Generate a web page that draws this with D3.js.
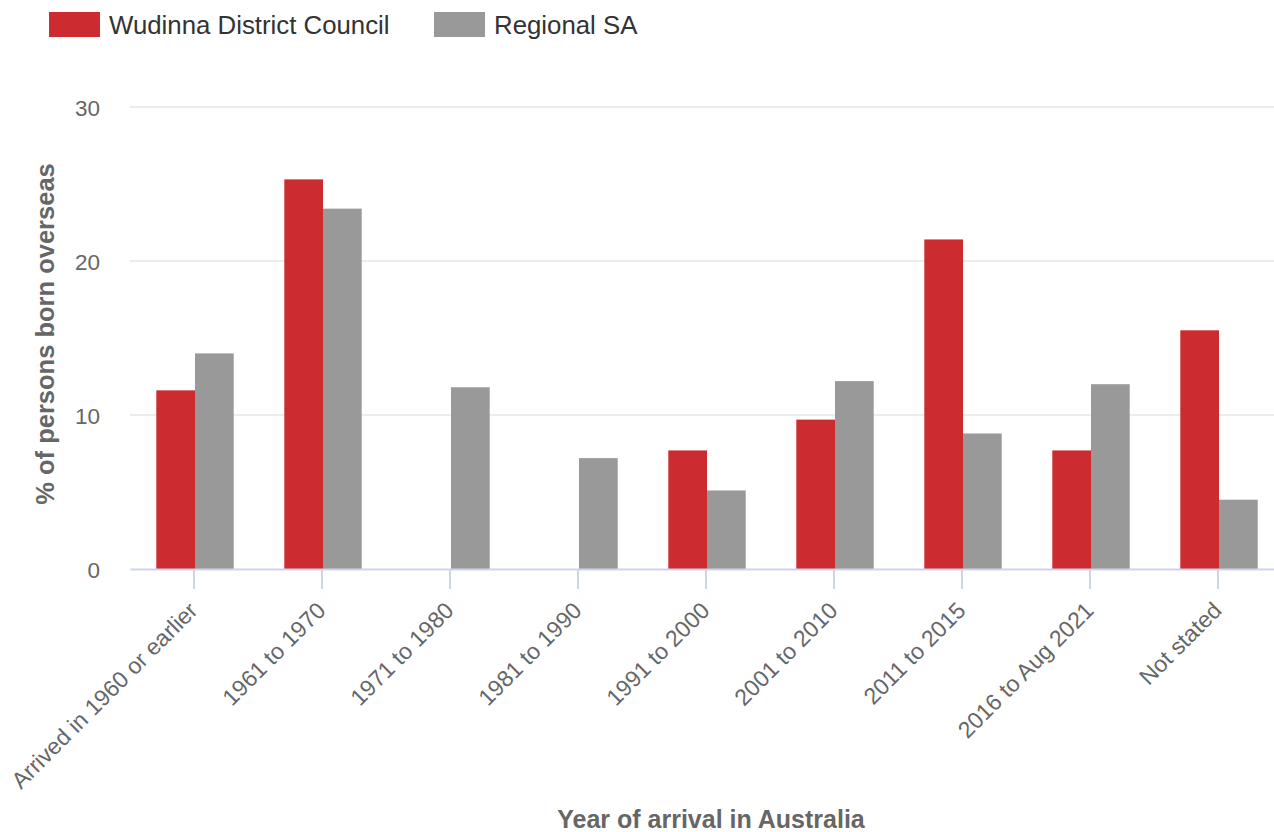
<!DOCTYPE html>
<html>
<head>
<meta charset="utf-8">
<script src="https://cdn.jsdelivr.net/npm/d3@7"></script>
<style>
  body { margin: 0; background: #fff; }
  svg { font-family: "Liberation Sans", Arial, sans-serif; display: block; }
</style>
</head>
<body>
<svg width="1274" height="832"></svg>
<script>
// chart data
let categories = ["Arrived in 1960 or earlier", "1961 to 1970", "1971 to 1980", "1981 to 1990",
    "1991 to 2000", "2001 to 2010", "2011 to 2015", "2016 to Aug 2021", "Not stated"];
let wudinna = [11.6, 25.3, 0, 0, 7.7, 9.7, 21.4, 7.7, 15.5];
let regional = [14.0, 23.4, 11.8, 7.2, 5.1, 12.2, 8.8, 12.0, 4.5];
let seriesNames = ["Wudinna District Council", "Regional SA"];
let seriesColors = ["#cc2b30", "#999999"];
let yTicks = [0, 10, 20, 30];

let svg = d3.select("svg");
let plotLeft = 130, plotRight = 1282, plotTop = 107, plotBottom = 569;

let x = d3.scaleBand().domain(categories).range([plotLeft, plotRight]);
let y = d3.scaleLinear().domain([0, 30]).range([plotBottom, plotTop]);
let inner = d3.scaleBand().domain([0, 1]).range([0, 77.4]);

// grid
svg.append("g")
    .selectAll("line")
    .data(yTicks.filter(d => d > 0))
    .enter().append("line")
    .attr("x1", plotLeft).attr("x2", plotRight)
    .attr("y1", d => y(d)).attr("y2", d => y(d))
    .attr("stroke", "#e6e6e6").attr("stroke-width", 1.5);

// y tick labels
svg.append("g")
    .selectAll("text")
    .data(yTicks)
    .enter().append("text")
    .attr("x", 100)
    .attr("y", d => y(d) + 9)
    .attr("text-anchor", "end")
    .attr("fill", "#666")
    .style("font-size", "22.5px")
    .text(d => d);

// bars
let groups = svg.append("g")
    .selectAll("g")
    .data(categories)
    .enter().append("g")
    .attr("transform", d => "translate(" + (x(d) + x.bandwidth() / 2 - 37.7) + ",0)");

groups.selectAll("rect")
    .data((d, i) => [wudinna[i], regional[i]])
    .enter().append("rect")
    .attr("x", (d, j) => inner(j))
    .attr("width", inner.bandwidth())
    .attr("y", d => y(d))
    .attr("height", d => plotBottom - y(d))
    .attr("fill", (d, j) => seriesColors[j]);

// x axis
let xAxis = svg.append("g")
    .attr("transform", "translate(0," + plotBottom + ")")
    .call(d3.axisBottom(x).tickSize(20).tickSizeOuter(0));
xAxis.select(".domain").attr("stroke", "#ccd6eb").attr("stroke-width", 2);
xAxis.selectAll(".tick line").attr("stroke", "#ccd6eb").attr("stroke-width", 2);
xAxis.selectAll(".tick text")
    .attr("fill", "#666")
    .style("font-size", "23px")
    .style("font-family", "Liberation Sans, Arial, sans-serif")
    .attr("text-anchor", "end")
    .attr("dy", null)
    .attr("y", 0)
    .attr("transform", "translate(5,43) rotate(-45)");

// axis titles
svg.append("text")
    .attr("transform", "translate(54,334) rotate(-90)")
    .attr("text-anchor", "middle")
    .attr("fill", "#666")
    .style("font-size", "25.5px")
    .style("font-weight", "bold")
    .text("% of persons born overseas");

svg.append("text")
    .attr("x", 711)
    .attr("y", 828)
    .attr("text-anchor", "middle")
    .attr("fill", "#666")
    .style("font-size", "25px")
    .style("font-weight", "bold")
    .text("Year of arrival in Australia");

// legend
let legendX = [49, 434];
let legend = svg.append("g")
    .selectAll("g")
    .data(seriesNames)
    .enter().append("g")
    .attr("transform", (d, i) => "translate(" + legendX[i] + ",12)");
legend.append("rect")
    .attr("width", 51).attr("height", 25)
    .attr("fill", (d, i) => seriesColors[i]);
legend.append("text")
    .attr("x", 60).attr("y", 21.5)
    .attr("fill", "#333")
    .style("font-size", "25.8px")
    .text(d => d);
</script>
</body>
</html>
